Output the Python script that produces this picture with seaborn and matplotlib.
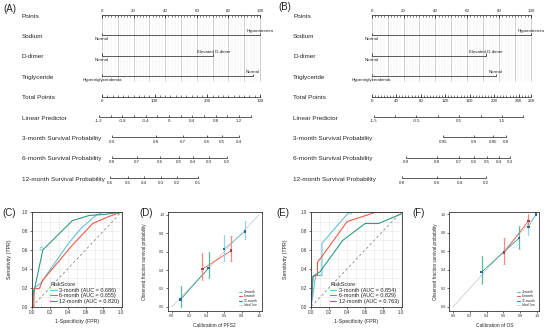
import numpy as np
import pandas as pd
import matplotlib
matplotlib.use("Agg")
import matplotlib.pyplot as plt
from matplotlib.lines import Line2D
import seaborn as sns

sns.set_theme(style="white")
plt.rcParams["font.family"] = ["Liberation Sans", "DejaVu Sans"]

W, H = 550, 329

# ---------------- nomogram data ----------------
ROW_NAMES = ["Points", "Sodium", "D-dimer", "Triglyceride", "Total Points",
             "Linear Predictor", "3-month Survival Probability",
             "6-month Survival Probability", "12-month Survival Probability"]

# (A) PFS2 nomogram
A_SODIUM_LBL = ["Normal", "Hyponatremia"]
A_SODIUM_PTS = [0, 100]
A_DDIMER_LBL = ["Normal", "Elevated D-dimer"]
A_DDIMER_PTS = [0, 70.5]
A_TRIG_LBL = ["Hypertriglyceridemia", "Normal"]
A_TRIG_PTS = [0, 95.6]
A_TOTAL_MAX = 300
A_TOTAL_LABELS = [0, 100, 200, 300]
A_TOTAL_STEP = 10
A_LP_LABELS = [-1.2, -0.8, -0.4, 0, 0.4, 0.8, 1.2]
A_LP_TICKS = np.round(np.arange(-1.2, 1.41, 0.2), 1)
A_LP_ZERO, A_LP_SLOPE = 42.4, 36.9          # points at LP = 0, points per LP unit
A_S3_LBL = ["0.9", "0.8", "0.7", "0.6", "0.5", "0.4"]
A_S3_PTS = [6.3, 34.2, 51.3, 66.5, 75.9, 86.7]
A_S6_LBL = ["0.8", "0.7", "0.6", "0.5", "0.4", "0.3", "0.2"]
A_S6_PTS = [6.3, 22.2, 36.7, 48.7, 57.6, 67.7, 79.1]
A_S12_LBL = ["0.6", "0.5", "0.4", "0.3", "0.2", "0.1"]
A_S12_PTS = [5.1, 16.5, 26.6, 37.3, 47.5, 60.8]

# (B) OS nomogram
B_SODIUM_LBL = ["Normal", "Hyponatremia"]
B_SODIUM_PTS = [0, 100]
B_DDIMER_LBL = ["Normal", "Elevated D-dimer"]
B_DDIMER_PTS = [0, 71.5]
B_TRIG_LBL = ["Hypertriglyceridemia", "Normal"]
B_TRIG_PTS = [0, 77.8]
B_TOTAL_MAX = 260
B_TOTAL_LABELS = [0, 40, 80, 120, 160, 200, 240, 260]
B_TOTAL_STEP = 5
B_LP_LABELS = [-1.5, -0.5, 0.5, 1.5]
B_LP_TICKS = np.round(np.arange(-1.5, 2.01, 0.5), 1)
B_LP_ZERO, B_LP_SLOPE = 41.5, 26.8
B_S3_LBL = ["0.95", "0.9", "0.85", "0.8"]
B_S3_PTS = [44.6, 64.2, 76.3, 84.2]
B_S6_LBL = ["0.9", "0.8", "0.7", "0.6", "0.5", "0.4", "0.3"]
B_S6_PTS = [21.5, 41.2, 54.8, 64.2, 72.6, 80.1, 86.8]
B_S12_LBL = ["0.8", "0.6", "0.4", "0.2"]
B_S12_PTS = [18.8, 41.2, 55.6, 71.8]

# ---------------- ROC data ----------------
GROUPS = ["3-month", "6-month", "12-month"]
C_AUC = [0.686, 0.655, 0.820]
C_FPR_3 = [0, 0.01, 0.03, 0.10, 0.15, 0.40, 0.55, 0.72, 0.80, 1.0]
C_TPR_3 = [0, 0.05, 0.20, 0.25, 0.32, 0.66, 0.83, 0.97, 1.0, 1.0]
C_FPR_6 = [0, 0.02, 0.02, 0.08, 0.12, 0.30, 0.45, 0.68, 0.85, 1.0]
C_TPR_6 = [0, 0.0, 0.19, 0.19, 0.28, 0.48, 0.65, 0.88, 0.95, 1.0]
C_FPR_12 = [0, 0.0, 0.03, 0.12, 0.45, 0.64, 0.80, 1.0]
C_TPR_12 = [0, 0.10, 0.20, 0.60, 0.91, 0.965, 0.975, 1.0]
C_MARK = (0.10, 0.62)

E_AUC = [0.854, 0.829, 0.763]
E_FPR_3 = [0, 0.0, 0.05, 0.12, 0.12, 0.42, 1.0]
E_TPR_3 = [0, 0.0, 0.33, 0.33, 0.67, 1.0, 1.0]
E_FPR_6 = [0, 0.02, 0.07, 0.07, 0.12, 0.40, 0.72, 1.0]
E_TPR_6 = [0, 0.32, 0.33, 0.47, 0.53, 0.90, 1.0, 1.0]
E_FPR_12 = [0, 0.02, 0.10, 0.35, 0.60, 0.75, 1.0, 1.0]
E_TPR_12 = [0, 0.32, 0.37, 0.70, 0.88, 0.88, 0.98, 1.0]
E_MARK = (0.43, 1.0)

# ---------------- calibration data ----------------
D_X = {"3-month": [0.60, 0.84], "6-month": [0.35, 0.68], "12-month": [0.10, 0.42]}
D_Y = {"3-month": [0.63, 0.82], "6-month": [0.41, 0.61], "12-month": [0.08, 0.42]}
D_LO = {"3-month": [0.50, 0.74], "6-month": [0.29, 0.50], "12-month": [0.00, 0.31]}
D_HI = {"3-month": [0.78, 0.93], "6-month": [0.59, 0.77], "12-month": [0.23, 0.60]}

F_X = {"3-month": [0.90, 0.99], "6-month": [0.61, 0.90], "12-month": [0.34, 0.79]}
F_Y = {"3-month": [0.866, 1.0], "6-month": [0.59, 0.93], "12-month": [0.375, 0.745]}
F_LO = {"3-month": [0.78, 1.0], "6-month": [0.46, 0.87], "12-month": [0.25, 0.63]}
F_HI = {"3-month": [0.90, 1.0], "6-month": [0.75, 1.0], "12-month": [0.55, 0.88]}

LINE_COL = {"3-month": "#67C1DA", "6-month": "#EF5B48", "12-month": "#2E9D83"}
BAR_COL = {"3-month": "#86CFE3", "6-month": "#F3806F", "12-month": "#47B095"}
PT_COL = {"3-month": "#35679F", "6-month": "#B33A55", "12-month": "#35679F"}


def px_axes(fig, left, top, right, bottom):
    return fig.add_axes([left / W, 1 - bottom / H, (right - left) / W, (bottom - top) / H])


def draw_nomogram(ax, d, label_x):
    ax.axis("off")
    ax.set_ylim(9.31, -0.735)
    fs_tick = 3.2
    # vertical guide lines
    for p in np.arange(0, 101, 2):
        dark = p % 10 == 0
        ax.plot([p, p], [0, 3.25], color="#A9A9A9" if dark else "#E3E3E3",
                lw=0.4 if dark else 0.3, zorder=0)
    # points row
    ax.plot([0, 100], [0, 0], color="k", lw=0.5)
    ax.vlines(np.arange(0, 101, 2), 0, 0.09, color="k", lw=0.4)
    ax.vlines(np.arange(0, 101, 20), 0, 0.14, color="k", lw=0.5)
    for p in range(0, 101, 20):
        ax.text(p, -0.1, str(p), ha="center", va="bottom", fontsize=fs_tick)
    # categorical rows
    for row, (lbls, pts) in enumerate(d["cats"], start=1):
        ax.plot([min(pts), max(pts)], [row, row], color="k", lw=0.5)
        ax.vlines(pts, row, row - 0.12, color="k", lw=0.5)
        ax.text(pts[0], row + 0.1, lbls[0], ha="center", va="top", fontsize=fs_tick)
        ax.text(pts[1], row - 0.1, lbls[1], ha="center", va="bottom", fontsize=fs_tick)
    # total points
    tmax = d["tmax"]
    tp = np.arange(0, tmax + 0.1, d["tstep"]) * 100 / tmax
    ax.plot([0, 100], [4, 4], color="k", lw=0.5)
    ax.vlines(tp, 4, 4 - 0.09, color="k", lw=0.4)
    for v in d["tlabels"]:
        ax.vlines(v * 100 / tmax, 4, 4 - 0.14, color="k", lw=0.5)
        ax.text(v * 100 / tmax, 4.12, str(v), ha="center", va="top", fontsize=fs_tick)
    # linear predictor
    z, s = d["lp_map"]
    lp_pts = z + s * np.asarray(d["lp_ticks"])
    ax.plot([lp_pts.min(), lp_pts.max()], [5, 5], color="k", lw=0.5)
    ax.vlines(lp_pts, 5, 5 - 0.11, color="k", lw=0.5)
    for v in d["lp_labels"]:
        ax.text(z + s * v, 5.12, f"{v:g}", ha="center", va="top", fontsize=fs_tick)
    # survival rows
    for row, (lbls, pts) in enumerate(d["surv"], start=6):
        ax.plot([min(pts), max(pts)], [row, row], color="k", lw=0.5)
        ax.vlines(pts, row, row - 0.11, color="k", lw=0.5)
        for l, p in zip(lbls, pts):
            ax.text(p, row + 0.12, l, ha="center", va="top", fontsize=fs_tick)
    for row, name in enumerate(ROW_NAMES):
        ax.text(label_x, row + 0.05, name, transform=ax.get_yaxis_transform(),
                ha="left", va="center", fontsize=4.6)


def style_frame(ax, fs):
    for sp in ax.spines.values():
        sp.set_visible(True)
        sp.set_color("#333333")
        sp.set_linewidth(0.6)
    ax.tick_params(axis="both", which="major", labelsize=fs, length=1.5, width=0.5,
                   pad=1, colors="#333333", bottom=True, left=True)
    ax.set_xticks(np.arange(0, 1.01, 0.2))
    ax.set_yticks(np.arange(0, 1.01, 0.2))
    ax.xaxis.set_major_formatter(matplotlib.ticker.FormatStrFormatter("%.1f"))
    ax.yaxis.set_major_formatter(matplotlib.ticker.FormatStrFormatter("%.1f"))


def draw_roc(ax, fprs, tprs, aucs, mark, ylab_pad):
    labels = [f"{g} (AUC = {a:.3f})" for g, a in zip(GROUPS, aucs)]
    df = pd.concat([pd.DataFrame({"fpr": f, "tpr": t, "RiskScore": l})
                    for f, t, l in zip(fprs, tprs, labels)], ignore_index=True)
    ax.set_xticks(np.arange(0, 1.01, 0.1), minor=True)
    ax.set_yticks(np.arange(0, 1.01, 0.1), minor=True)
    ax.grid(True, which="both", color="#EBE3E3", lw=0.4)
    ax.plot([0, 1], [0, 1], ls=(0, (3, 3)), color="#8A8A8A", lw=0.6)
    sns.lineplot(data=df, x="fpr", y="tpr", hue="RiskScore", sort=False, estimator=None,
                 palette=[LINE_COL[g] for g in GROUPS], lw=0.8, ax=ax)
    ax.plot(*mark, marker="o", ms=2.2, mfc="none", mec=LINE_COL["3-month"], mew=0.5)
    ax.set_xlim(-0.005, 1.005)
    ax.set_ylim(-0.005, 1.005)
    style_frame(ax, 3.3)
    ax.tick_params(which="minor", length=0)
    ax.set_xlabel("1-Specificity (FPR)", fontsize=3.8, labelpad=2.5)
    ax.set_ylabel("Sensitivity (TPR)", fontsize=3.8, labelpad=ylab_pad)
    sns.move_legend(ax, "lower right", frameon=False, fontsize=4.0, title_fontsize=4.0,
                    handlelength=1.1, handletextpad=0.4, labelspacing=0.15,
                    borderaxespad=0.1, bbox_to_anchor=(1.0, 0.0))
    ax.get_legend()._legend_box.align = "left"


def draw_calib(ax, xs, ys, los, his, xlab, ylab_pad):
    ax.plot([0, 1], [0, 1], color="#CFCFCF", lw=0.6, zorder=1)
    df = pd.concat([pd.DataFrame({"x": xs[g], "y": ys[g], "group": g}) for g in GROUPS],
                   ignore_index=True)
    sns.lineplot(data=df, x="x", y="y", hue="group", palette=LINE_COL, sort=False,
                 estimator=None, lw=0.6, legend=False, ax=ax, zorder=2)
    for g in GROUPS:
        ax.vlines(xs[g], los[g], his[g], color=BAR_COL[g], lw=0.9, alpha=0.9, zorder=3)
        ax.hlines(los[g] + his[g], np.array(xs[g] * 2) - 0.008, np.array(xs[g] * 2) + 0.008,
                  color=BAR_COL[g], lw=0.5, zorder=3)
    sns.scatterplot(data=df, x="x", y="y", hue="group", palette=PT_COL, marker="s",
                    s=3, linewidth=0, legend=False, ax=ax, zorder=4)
    ax.set_xlim(-0.045, 1.03)
    ax.set_ylim(-0.045, 1.03)
    style_frame(ax, 2.7)
    ax.set_xlabel(xlab, fontsize=3.5, labelpad=3)
    ax.set_ylabel("Observed fraction survival probability", fontsize=3.3, labelpad=ylab_pad)
    handles = [Line2D([], [], color=LINE_COL[g], lw=0.8) for g in GROUPS]
    handles.append(Line2D([], [], color="#CFCFCF", lw=0.8))
    ax.legend(handles, GROUPS + ["Ideal line"], loc="lower right", frameon=False,
              fontsize=2.3, handlelength=1.0, handletextpad=0.5, labelspacing=0.15,
              borderaxespad=0.8)


fig = plt.figure(figsize=(W / 100, H / 100), dpi=100)

ax_a = px_axes(fig, 0, 0, 275, 205)
ax_a.set_xlim(-102 / 1.58, 173 / 1.58)
draw_nomogram(ax_a, {
    "cats": [(A_SODIUM_LBL, A_SODIUM_PTS), (A_DDIMER_LBL, A_DDIMER_PTS), (A_TRIG_LBL, A_TRIG_PTS)],
    "tmax": A_TOTAL_MAX, "tlabels": A_TOTAL_LABELS, "tstep": A_TOTAL_STEP,
    "lp_map": (A_LP_ZERO, A_LP_SLOPE), "lp_ticks": A_LP_TICKS, "lp_labels": A_LP_LABELS,
    "surv": [(A_S3_LBL, A_S3_PTS), (A_S6_LBL, A_S6_PTS), (A_S12_LBL, A_S12_PTS)],
}, 22 / 275)

ax_b = px_axes(fig, 275, 0, 550, 205)
ax_b.set_xlim(-96.7 / 1.593, 178.3 / 1.593)
draw_nomogram(ax_b, {
    "cats": [(B_SODIUM_LBL, B_SODIUM_PTS), (B_DDIMER_LBL, B_DDIMER_PTS), (B_TRIG_LBL, B_TRIG_PTS)],
    "tmax": B_TOTAL_MAX, "tlabels": B_TOTAL_LABELS, "tstep": B_TOTAL_STEP,
    "lp_map": (B_LP_ZERO, B_LP_SLOPE), "lp_ticks": B_LP_TICKS, "lp_labels": B_LP_LABELS,
    "surv": [(B_S3_LBL, B_S3_PTS), (B_S6_LBL, B_S6_PTS), (B_S12_LBL, B_S12_PTS)],
}, 18 / 275)

ax_c = px_axes(fig, 31.7, 211.7, 121.7, 307)
draw_roc(ax_c, [C_FPR_3, C_FPR_6, C_FPR_12], [C_TPR_3, C_TPR_6, C_TPR_12], C_AUC, C_MARK, 7)

ax_d = px_axes(fig, 168, 212, 261.7, 311)
draw_calib(ax_d, D_X, D_Y, D_LO, D_HI, "Calibration of PFS2", 9)

ax_e = px_axes(fig, 310.7, 211.7, 401.5, 307)
draw_roc(ax_e, [E_FPR_3, E_FPR_6, E_FPR_12], [E_TPR_3, E_TPR_6, E_TPR_12], E_AUC, E_MARK, 9)

ax_f = px_axes(fig, 449.3, 211.7, 539.3, 311)
draw_calib(ax_f, F_X, F_Y, F_LO, F_HI, "Calibration of OS", 2)

for x, y, lab in [(3, 9, "(A)"), (278, 7, "(B)"), (2, 213, "(C)"), (139, 213, "(D)"),
                  (276, 213, "(E)"), (412, 213, "(F)")]:
    fig.text(x / W, 1 - y / H, lab, ha="left", va="center", fontsize=7, color="#222222")

fig.savefig("out.png", dpi=100)
